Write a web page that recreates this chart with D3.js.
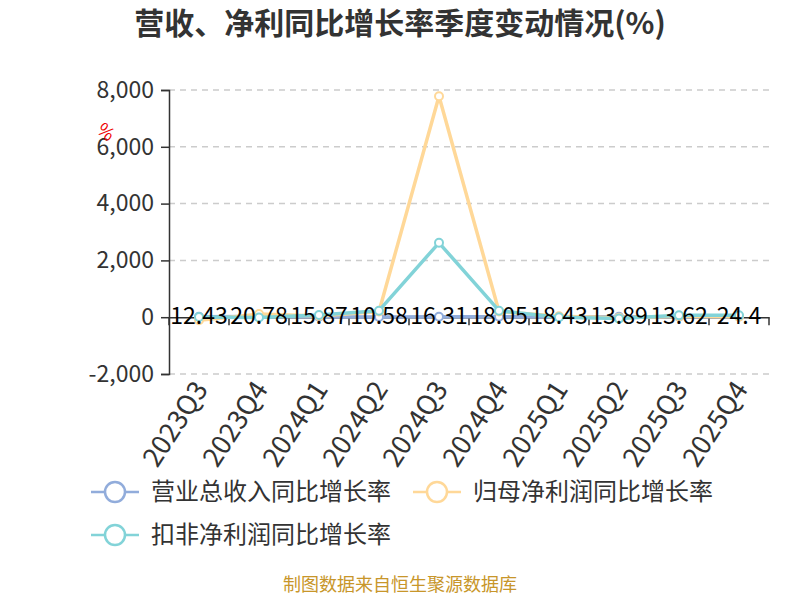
<!DOCTYPE html>
<html><head><meta charset="utf-8">
<script src="https://cdn.jsdelivr.net/npm/d3@7/dist/d3.min.js"></script>
<style>body{margin:0;background:#fff}svg{display:block}</style>
</head><body><svg id="c" width="800" height="600"></svg>
<script>
const categories = ["2023Q3","2023Q4","2024Q1","2024Q2","2024Q3","2024Q4","2025Q1","2025Q2","2025Q3","2025Q4"];
const revenueGrowth = [12.43,20.78,15.87,10.58,16.31,18.05,18.43,13.89,13.62,24.4];
const netProfitGrowth = [-110,110,40,200,7780,200,30,-20,30,20];
const deductedProfitGrowth = [10,-10,80,230,2620,230,0,-50,65,65];
const yTicks = [-2000,0,2000,4000,6000,8000];
const seriesNames = ["营业总收入同比增长率","归母净利润同比增长率","扣非净利润同比增长率"];
const colors = ["#91acdb","#ffd898","#82d3d8"];

const font = "'Microsoft YaHei','Noto Sans CJK SC','Noto Sans',sans-serif";
const svg = d3.select("#c").style("font-family", font);
const L = 169, R = 769, T = 90, B = 374;
const x = d3.scaleBand().domain(categories).range([L, R]);
const y = d3.scaleLinear().domain([-2000, 8000]).range([B, T]);
const cx = d => x(d) + x.bandwidth() / 2;

// title
svg.append("text").attr("x", 400).attr("y", 23).attr("dy", "0.36em").attr("text-anchor", "middle")
  .attr("font-size", 30).attr("font-weight", "bold").attr("fill", "#333")
  .text("营收、净利同比增长率季度变动情况(%)");

// grid
svg.append("g").selectAll("line").data(yTicks.filter(t => t !== 0)).join("line")
  .attr("x1", L).attr("x2", R).attr("y1", d => y(d)).attr("y2", d => y(d))
  .attr("stroke", "#ccc").attr("stroke-width", 1.5).attr("stroke-dasharray", "6,5");

// y axis
const fmt = d3.format(",");
const ya = svg.append("g").attr("transform", `translate(${L},0)`)
  .call(d3.axisLeft(y).tickValues(yTicks).tickFormat(d => fmt(d).replace("\u2212", "-")).tickSize(8).tickPadding(7));
ya.select(".domain").attr("stroke", "#333").attr("stroke-width", 1.5);
ya.selectAll(".tick line").attr("stroke", "#333").attr("stroke-width", 1.5);
ya.selectAll(".tick text").attr("font-size", 23).attr("fill", "#333").attr("font-family", font);

// x axis at zero
const xa = svg.append("g").attr("transform", `translate(0,${y(0)})`)
  .call(d3.axisBottom(x).tickSize(0).tickFormat(""));
xa.select(".domain").attr("stroke", "#333").attr("stroke-width", 1.5);
svg.append("g").selectAll("line").data(d3.range(categories.length + 1)).join("line")
  .attr("x1", i => L + i * x.bandwidth()).attr("x2", i => L + i * x.bandwidth())
  .attr("y1", y(0)).attr("y2", y(0) + 8).attr("stroke", "#333").attr("stroke-width", 1.5);

// x labels at bottom
svg.append("g").selectAll("text").data(categories).join("text")
  .attr("transform", d => `translate(${cx(d) + 2},${B + 10}) rotate(-57)`)
  .attr("text-anchor", "end").attr("dy", "0.35em")
  .attr("font-size", 27).attr("fill", "#333").text(d => d);

// % unit
svg.append("text").attr("transform", "translate(106,132) rotate(40)")
  .attr("text-anchor", "middle").attr("dy", "0.35em")
  .attr("font-size", 18).attr("fill", "#e00").text("%");

// lines
const allSeries = [revenueGrowth, netProfitGrowth, deductedProfitGrowth];
const line = d3.line().x((d, i) => cx(categories[i])).y(d => y(d));
allSeries.forEach((s, k) => {
  svg.append("path").datum(s).attr("d", line).attr("fill", "none")
    .attr("stroke", colors[k]).attr("stroke-width", 3.5).attr("stroke-linejoin", "round");
  svg.append("g").selectAll("circle").data(s).join("circle")
    .attr("cx", (d, i) => cx(categories[i])).attr("cy", d => y(d)).attr("r", 4)
    .attr("fill", "#fff").attr("stroke", colors[k]).attr("stroke-width", 2);
});

// revenue labels
svg.append("g").selectAll("text").data(revenueGrowth).join("text")
  .attr("x", (d, i) => cx(categories[i])).attr("y", d => y(d) - 1)
  .attr("text-anchor", "middle").attr("dy", "0.35em")
  .attr("font-size", 23).attr("fill", "#000").text(d => d);

// legend
const leg = [
  {i: 0, x: 91, y: 492},
  {i: 1, x: 413, y: 492},
  {i: 2, x: 91, y: 535}
];
leg.forEach(o => {
  const g = svg.append("g");
  g.append("line").attr("x1", o.x).attr("x2", o.x + 48).attr("y1", o.y).attr("y2", o.y)
    .attr("stroke", colors[o.i]).attr("stroke-width", 2.5);
  g.append("circle").attr("cx", o.x + 24).attr("cy", o.y).attr("r", 10)
    .attr("fill", "#fff").attr("stroke", colors[o.i]).attr("stroke-width", 2.5);
  g.append("text").attr("x", o.x + 60).attr("y", o.y).attr("dy", "0.35em")
    .attr("font-size", 24).attr("fill", "#333").text(seriesNames[o.i]);
});

// footer
svg.append("text").attr("x", 400).attr("y", 591).attr("text-anchor", "middle")
  .attr("font-size", 18).attr("fill", "#c8962a").text("制图数据来自恒生聚源数据库");
</script></body></html>
